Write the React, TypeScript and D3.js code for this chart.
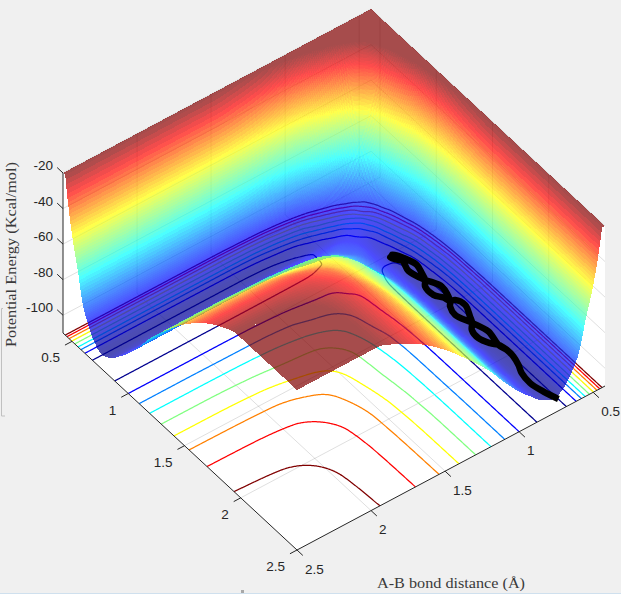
import React from "react";
import * as d3 from "d3";

// Bond lengths (Å) at which the surface was read
const bondGrid = [0.42, 0.44, 0.46, 0.5, 0.55, 0.6, 0.65, 0.7, 0.76, 0.84, 0.92, 1.0, 1.1, 1.2, 1.35, 1.5, 1.7, 1.94, 2.2, 2.5];

// Energy (kcal/mol), lower triangle: row = B-C distance, column = A-B distance (the surface is symmetric).
// The drawn surface stops at the ceiling energy, so entries above it only shape the ceiling's outline.
const energyRows = [
  [58],
  [54, 48],
  [50, 44, 36],
  [46, 40, 34, 18],
  [40, 33, 27, 14, -2],
  [34, 27, 20, 10, -4, -20],
  [26, 20, 14, 2, -15, -29, -38],
  [22, 16, 8, -8, -21.5, -38, -51, -63],
  [16, 9, 2, -13, -30.5, -47, -60.5, -71, -82],
  [8, 1, -6, -21, -40, -55, -68, -81.5, -89, -91],
  [2, -5, -12.5, -30.5, -48.5, -61.5, -76, -86.5, -92, -94, -93],
  [-1, -8, -18, -37, -55, -69, -82, -90.5, -95, -96.2, -93.6, -91.5],
  [-4, -12, -24, -42, -59.5, -75, -88, -94, -98, -97.3, -94, -90, -87.5],
  [-6, -16, -28, -46, -63, -79, -90.5, -96.5, -100, -98.8, -94, -90, -84, -79],
  [-7, -18.5, -30.5, -49, -65.7, -83, -92.3, -98.3, -101.5, -99.4, -93.8, -89, -82.5, -73.5, -62.9],
  [-8, -20, -32, -50, -66.5, -84.3, -93, -98.8, -102, -99.5, -93.8, -88.2, -79.2, -70, -58, -50.5],
  [-8, -20, -32, -50, -66.7, -84.5, -93, -98.8, -102, -99.5, -93.8, -87.6, -78.1, -68, -56.5, -46, -35.5],
  [-8, -20, -32, -50, -66.7, -84.5, -93, -98.8, -102, -99.5, -93.8, -87.5, -77.9, -67.2, -54.6, -42.6, -30.5, -23.5],
  [-8, -20, -32, -50, -66.7, -84.5, -93, -98.8, -102, -99.5, -93.8, -87.5, -77.7, -67, -53.8, -42, -29.7, -20.6, -15],
  [-8, -20, -32, -50, -66.7, -84.5, -93, -98.8, -102, -99.5, -93.8, -87.5, -77.7, -67, -53.7, -41.8, -29.5, -20, -13, -6],
];
const energyCeiling = -20;

const contourLevels = [-97, -87.5, -78, -68, -58.5, -49, -39, -29.5, -20];
const bondTicks = [0.5, 1, 1.5, 2, 2.5];
const energyTicks = [-100, -80, -60, -40, -20];

// Trajectory: A-B and B-C distance (Å)
const trajectoryAB = [0.762, 0.792, 0.81, 0.8, 0.776, 0.759, 0.756, 0.769, 0.75, 0.78, 0.816, 0.799, 0.773, 0.742, 0.769, 0.783, 0.813, 0.793, 0.801, 0.829, 0.8, 0.806, 0.775, 0.749, 0.766, 0.783, 0.814, 0.817, 0.786, 0.773, 0.747, 0.727, 0.76, 0.78, 0.814, 0.824, 0.797, 0.769, 0.756];
const trajectoryBC = [2.536, 2.443, 2.348, 2.26, 2.199, 2.132, 2.07, 2.012, 1.899, 1.793, 1.689, 1.622, 1.588, 1.474, 1.405, 1.379, 1.27, 1.196, 1.145, 1.128, 1.179, 1.117, 1.173, 1.26, 1.327, 1.379, 1.42, 1.497, 1.546, 1.588, 1.598, 1.661, 1.748, 1.793, 1.835, 1.907, 1.975, 2.012, 2.07];
const trajectoryEnergy = -100;

const jetColors = ["#00008f", "#0000ff", "#00ffff", "#ffff00", "#ff0000", "#800000"];
const jetPositions = [0, 0.125, 0.375, 0.625, 0.875, 1];

const W = 621, H = 594;
const bondMin = 0.42, bondMax = 2.5, zMin = -110, zMax = -20;
const F = [297, 550], R = [605, 386], L = [63, 333];
const zHeight = 160;

const fracA = d3.scaleLinear().domain([bondMax, bondMin]).range([0, 1]);
const fracB = d3.scaleLinear().domain([bondMax, bondMin]).range([0, 1]);
const zPx = d3.scaleLinear().domain([zMin, zMax]).range([0, -zHeight]);
const project = (a: number, b: number, z: number): [number, number] => {
  const u = fracA(a), v = fracB(b);
  return [F[0] + (R[0] - F[0]) * u + (L[0] - F[0]) * v, F[1] + (R[1] - F[1]) * u + (L[1] - F[1]) * v + zPx(z)];
};

const jet = d3.scaleLinear<string>().domain(jetPositions).range(jetColors).interpolate(d3.interpolateRgb).clamp(true);
const surfaceT = d3.scaleLinear().domain([-102, -20]).range([0, 1]).clamp(true);
const levelT = d3.scaleLinear().domain([0, contourLevels.length - 1]).range([0, 1]);

const tableAt = (i: number, j: number) => (j <= i ? energyRows[i][j] : energyRows[j][i]);

function monotone(xs: number[], ys: number[]) {
  const n = xs.length;
  const h = d3.range(n - 1).map((k) => xs[k + 1] - xs[k]);
  const s = h.map((hk, k) => (ys[k + 1] - ys[k]) / hk);
  const m = new Array(n).fill(0);
  m[0] = s[0];
  m[n - 1] = s[n - 2];
  for (let k = 1; k < n - 1; k++) {
    if (s[k - 1] * s[k] > 0) {
      const w1 = 2 * h[k] + h[k - 1], w2 = h[k] + 2 * h[k - 1];
      m[k] = (w1 + w2) / (w1 / s[k - 1] + w2 / s[k]);
    }
  }
  return (x: number) => {
    let k = d3.bisectRight(xs, x) - 1;
    k = Math.max(0, Math.min(n - 2, k));
    const t = (x - xs[k]) / h[k], t2 = t * t, t3 = t2 * t;
    return (2 * t3 - 3 * t2 + 1) * ys[k] + (t3 - 2 * t2 + t) * h[k] * m[k] + (-2 * t3 + 3 * t2) * ys[k + 1] + (t3 - t2) * h[k] * m[k + 1];
  };
}

function sample(nodes: number[]): number[][] {
  const rows = bondGrid.map((_, i) => {
    const f = monotone(bondGrid, bondGrid.map((_, j) => tableAt(i, j)));
    return nodes.map(f);
  });
  const cols = nodes.map((_, k) => monotone(bondGrid, rows.map((r) => r[k])));
  return nodes.map((b) => cols.map((f) => f(b)));
}

// surface mesh: denser where the walls are steep
const meshNodes: number[] = [];
{
  const steps = [[0.42, 0.7, 0.004], [0.7, 1.2, 0.012], [1.2, 2.5, 0.025]];
  steps.forEach(([s, e, d]) => {
    const n = Math.round((e - s) / d);
    for (let k = 0; k < n; k++) meshNodes.push(s + ((e - s) * k) / n);
  });
  meshNodes.push(2.5);
}
const meshZ = sample(meshNodes).map((r) => r.map((v) => Math.min(v, energyCeiling)));
const quads: { d: string; fill: string }[] = [];
for (let i = 0; i < meshNodes.length - 1; i++) {
  for (let j = 0; j < meshNodes.length - 1; j++) {
    const b0 = meshNodes[i], b1 = meshNodes[i + 1], a0 = meshNodes[j], a1 = meshNodes[j + 1];
    const z00 = meshZ[i][j], z01 = meshZ[i][j + 1], z10 = meshZ[i + 1][j], z11 = meshZ[i + 1][j + 1];
    const p = [project(a0, b0, z00), project(a1, b0, z01), project(a1, b1, z11), project(a0, b1, z10)];
    quads.push({
      d: "M" + p.map((q) => q[0].toFixed(2) + " " + q[1].toFixed(2)).join("L") + "Z",
      fill: jet(surfaceT((z00 + z01 + z10 + z11) / 4)),
    });
  }
}

// floor contours
const contourN = 417;
const contourStep = (bondMax - bondMin) / (contourN - 1);
const contourNodes = d3.range(contourN).map((k) => bondMin + k * contourStep);
const contourZ = sample(contourNodes);
const contourFlat: number[] = [];
contourZ.forEach((r) => r.forEach((v) => contourFlat.push(v)));
const contourPaths = d3.contours().size([contourN, contourN]).thresholds(contourLevels)(contourFlat).map((c, idx) => {
  let d = "";
  const edge = (p: number[]) => p[0] <= 0 || p[0] >= contourN || p[1] <= 0 || p[1] >= contourN;
  const clampB = (v: number) => Math.max(bondMin, Math.min(bondMax, v));
  c.coordinates.forEach((poly) =>
    poly.forEach((ring) => {
      let pen = false;
      ring.forEach((p) => {
        if (edge(p)) { pen = false; return; }
        const q = project(clampB(bondMin + (p[0] - 0.5) * contourStep), clampB(bondMin + (p[1] - 0.5) * contourStep), zMin);
        d += (pen ? "L" : "M") + q[0].toFixed(2) + " " + q[1].toFixed(2);
        pen = true;
      });
    })
  );
  return { d, stroke: jet(levelT(idx)) };
});

const trajectoryPts = trajectoryAB.map((a, i) => project(a, trajectoryBC[i], trajectoryEnergy));
const trajectoryPath = d3.line().curve(d3.curveCatmullRom.alpha(0.5))(trajectoryPts) as string;

const seg = (p: [number, number], q: [number, number]) => `M${p[0]} ${p[1]}L${q[0]} ${q[1]}`;
const poly = (ps: [number, number][]) => ps.map((p) => p.join(",")).join(" ");

const gridD = [
  ...bondTicks.slice(0, 4).flatMap((t) => [
    seg(project(t, bondMax, zMin), project(t, bondMin, zMin)),
    seg(project(t, bondMin, zMin), project(t, bondMin, zMax)),
    seg(project(bondMax, t, zMin), project(bondMin, t, zMin)),
    seg(project(bondMin, t, zMin), project(bondMin, t, zMax)),
  ]),
  ...energyTicks.flatMap((z) => [
    seg(project(bondMax, bondMin, z), project(bondMin, bondMin, z)),
    seg(project(bondMin, bondMax, z), project(bondMin, bondMin, z)),
  ]),
].join("");

const ink = "#262626";

export default function App() {
  const tickLen = 8;
  return (
    <svg width={W} height={H} viewBox={`0 0 ${W} ${H}`} style={{ position: "fixed", left: 0, top: 0, display: "block" }}>
      <rect x={0} y={0} width={W} height={H} fill="#f0f0f0" />
      <polygon points={poly([project(bondMax, bondMin, zMin), project(bondMax, bondMin, zMax), project(bondMin, bondMin, zMax), project(bondMin, bondMin, zMin)])} fill="#fff" />
      <polygon points={poly([project(bondMin, bondMax, zMin), project(bondMin, bondMax, zMax), project(bondMin, bondMin, zMax), project(bondMin, bondMin, zMin)])} fill="#fff" />
      <polygon points={poly([project(bondMax, bondMax, zMin), project(bondMin, bondMax, zMin), project(bondMin, bondMin, zMin), project(bondMax, bondMin, zMin)])} fill="#fff" />
      <path d={gridD} stroke={ink} strokeOpacity={0.15} strokeWidth={1} fill="none" />
      {contourPaths.map((c, i) => (
        <path key={i} d={c.d} stroke={c.stroke} strokeWidth={1.25} fill="none" />
      ))}
      <g fillOpacity={0.7} shapeRendering="crispEdges">
        {quads.map((q, i) => (
          <path key={i} d={q.d} fill={q.fill} />
        ))}
      </g>
      <path d={trajectoryPath} stroke="#000" strokeWidth={6.5} fill="none" strokeLinejoin="round" strokeLinecap="butt" />
      {/* axes */}
      <path
        d={
          seg(project(bondMax, bondMin, zMin), project(bondMax, bondMax, zMin)) +
          seg(project(bondMax, bondMax, zMin), project(bondMin, bondMax, zMin)) +
          seg(project(bondMax, bondMin, zMin), project(bondMax, bondMin, zMax))
        }
        stroke={ink}
        strokeWidth={1}
        fill="none"
      />
      {bondTicks.map((t) => {
        const p = project(bondMax, t, zMin), q = project(t, bondMax, zMin);
        return (
          <g key={t}>
            <line x1={p[0]} y1={p[1]} x2={p[0] - 0.88 * tickLen} y2={p[1] + 0.47 * tickLen} stroke={ink} />
            <line x1={q[0]} y1={q[1]} x2={q[0] + 0.73 * tickLen} y2={q[1] + 0.68 * tickLen} stroke={ink} />
          </g>
        );
      })}
      {energyTicks.map((z) => {
        const p = project(bondMax, bondMin, z);
        return <line key={z} x1={p[0]} y1={p[1]} x2={p[0] - 0.73 * tickLen} y2={p[1] - 0.68 * tickLen} stroke={ink} />;
      })}
      <g fontFamily="'Liberation Sans', Arial, sans-serif" fontSize={13.5} fill={ink}>
        {bondTicks.map((t) => {
          const p = project(bondMax, t, zMin), q = project(t, bondMax, zMin);
          return (
            <g key={t}>
              <text x={p[0] - 12} y={p[1] + 16.5} textAnchor="end" dominantBaseline="central">{t}</text>
              <text x={q[0] + 8} y={q[1] + 19} textAnchor="start" dominantBaseline="central">{t}</text>
            </g>
          );
        })}
        {energyTicks.map((z) => {
          const p = project(bondMax, bondMin, z);
          return <text key={z} x={53} y={p[1] - 7.5} textAnchor="end" dominantBaseline="central">{z}</text>;
        })}
      </g>
      <g fontFamily="'Liberation Serif', 'Times New Roman', serif" fontSize={15} fill="#3a3a3a">
        <text x={377} y={583} dominantBaseline="central" textLength={148} lengthAdjust="spacingAndGlyphs">A-B bond distance (Å)</text>
        <text transform="translate(11,254.5) rotate(-90)" textAnchor="middle" dominantBaseline="central" textLength={185} lengthAdjust="spacingAndGlyphs">Potential Energy (Kcal/mol)</text>
      </g>
      {/* window chrome left in the screenshot */}
      <path d="M3 308.5H1.5V416H5" stroke="#c0c0c0" fill="none" />
      <rect x={0} y={593} width={W} height={1} fill="#cfe0ee" />
      <rect x={241} y={590} width={3} height={3} fill="#a8a8a8" />
    </svg>
  );
}
